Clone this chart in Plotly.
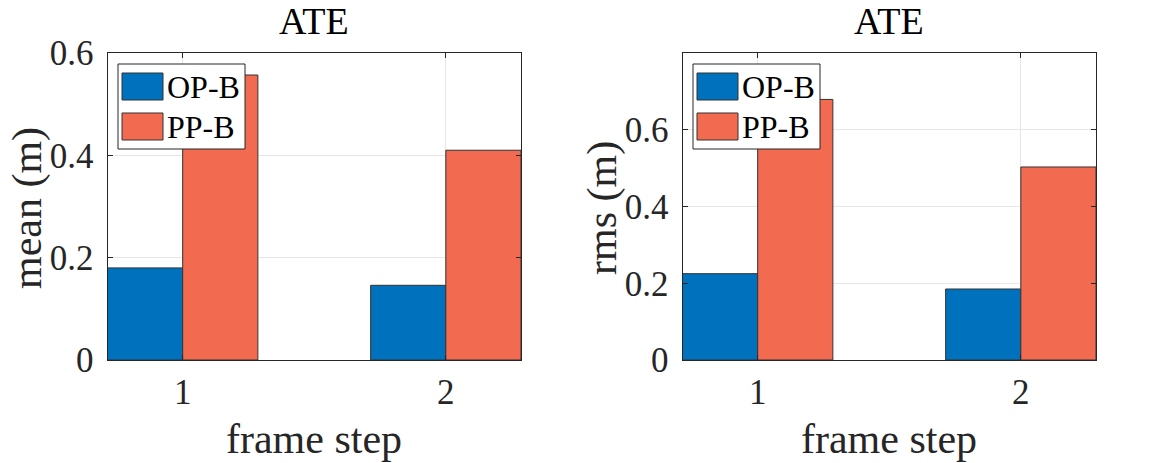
import plotly.graph_objects as go
from plotly.subplots import make_subplots

categories = [1, 2]
series_names = ["OP-B", "PP-B"]
mean_opb = [0.180, 0.146]
mean_ppb = [0.557, 0.410]
rms_opb = [0.225, 0.185]
rms_ppb = [0.679, 0.503]
y_titles = ["mean (m)", "rms (m)"]
plot_title = "ATE"
x_title = "frame step"
y_ranges = [[0, 0.6], [0, 0.8]]
y_ticks = [[0, 0.2, 0.4, 0.6], [0, 0.2, 0.4, 0.6]]
x_ticks = [1, 2]

colors = ["#0072BD", "#F26B50"]
FONT = "Liberation Serif"
TXT = "#262626"
W, H = 1150, 463

fig = make_subplots(rows=1, cols=2)

data = [(mean_opb, mean_ppb), (rms_opb, rms_ppb)]
for i, (a, b) in enumerate(data):
    for j, vals in enumerate((a, b)):
        fig.add_trace(go.Bar(x=categories, y=vals, name=series_names[j],
                             marker=dict(color=colors[j], line=dict(color="#333333", width=1)),
                             showlegend=False), row=1, col=i + 1)

def px2x(p):
    return p / W

def px2y(p):
    return 1 - p / H

doms = [[107.5 / W, 521 / W], [682.5 / W, 1096 / W]]
ydom = [px2y(360), px2y(53)]
ytitle_x = [27, 602]

for i in range(2):
    xa = "xaxis" if i == 0 else "xaxis2"
    ya = "yaxis" if i == 0 else "yaxis2"
    fig.layout[xa].update(domain=doms[i], range=[1 - 2 / 7, 2 + 2 / 7], automargin=False,
                          tickvals=x_ticks, ticktext=[str(v) for v in x_ticks],
                          ticks="inside", ticklen=5, tickcolor="#262626",
                          showline=True, linecolor="#262626", linewidth=1, mirror="ticks",
                          showgrid=True, gridcolor="#E6E6E6", zeroline=False,
                          ticklabelstandoff=1,
                          tickfont=dict(family=FONT, size=35, color=TXT))
    fig.layout[ya].update(domain=ydom, range=y_ranges[i], tickvals=y_ticks[i], automargin=False,
                          ticktext=[("0" if v == 0 else f"{v:.1f}") for v in y_ticks[i]],
                          ticks="inside", ticklen=5, tickcolor="#262626",
                          showline=True, linecolor="#262626", linewidth=1, mirror="ticks",
                          showgrid=True, gridcolor="#E6E6E6", zeroline=False,
                          ticklabelstandoff=6,
                          tickfont=dict(family=FONT, size=35, color=TXT))
    cx = (doms[i][0] + doms[i][1]) / 2
    # subplot title
    fig.add_annotation(x=cx, y=px2y(21), xref="paper", yref="paper", text=plot_title,
                       showarrow=False, font=dict(family=FONT, size=38, color="#000000"),
                       xanchor="center", yanchor="middle")
    # x-axis title
    fig.add_annotation(x=cx, y=px2y(439), xref="paper", yref="paper", text=x_title,
                       showarrow=False, font=dict(family=FONT, size=42, color=TXT),
                       xanchor="center", yanchor="middle")
    # y-axis title
    fig.add_annotation(x=px2x(ytitle_x[i]), y=px2y(208), xref="paper", yref="paper", text=y_titles[i],
                       showarrow=False, textangle=-90, font=dict(family=FONT, size=42, color=TXT),
                       xanchor="center", yanchor="middle")
    # custom legend
    off = 0 if i == 0 else 575
    fig.add_shape(type="rect", xref="paper", yref="paper",
                  x0=px2x(118 + off), x1=px2x(245 + off), y0=px2y(149), y1=px2y(64),
                  fillcolor="white", line=dict(color="#262626", width=1), layer="above")
    for j in range(2):
        top = 73 + j * 40
        fig.add_shape(type="rect", xref="paper", yref="paper",
                      x0=px2x(122 + off), x1=px2x(163 + off), y0=px2y(top + 27), y1=px2y(top),
                      fillcolor=colors[j], line=dict(color="#333333", width=1), layer="above")
        fig.add_annotation(x=px2x(165 + off), y=px2y(top + 14), xref="paper", yref="paper",
                           text=series_names[j], showarrow=False, xanchor="left", yanchor="middle",
                           font=dict(family=FONT, size=32, color="#000000"))

fig.update_layout(width=W, height=H, margin=dict(l=0, r=0, t=0, b=0),
                  barmode="group", bargap=1 - 4 / 7, bargroupgap=0,
                  plot_bgcolor="white", paper_bgcolor="white", showlegend=False)

fig.write_html("out.html", config={"displayModeBar": False},
               post_script="document.body.style.margin='0';document.body.style.overflow='hidden';")
